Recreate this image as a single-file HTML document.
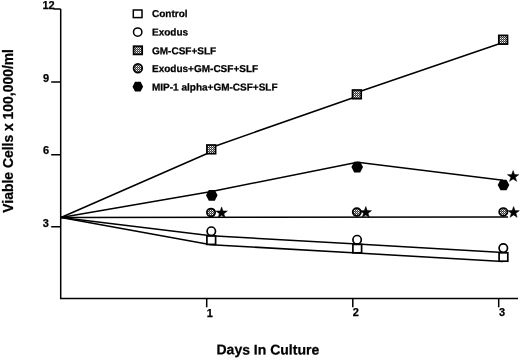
<!DOCTYPE html>
<html><head><meta charset="utf-8"><title>Viable Cells</title>
<style>
html,body{margin:0;padding:0;background:#fff;}
svg{display:block}
text{font-family:"Liberation Sans",Arial,sans-serif;font-weight:bold;fill:#000;stroke:#000;stroke-width:0.25px}
</style></head>
<body>
<svg width="520" height="360" viewBox="0 0 520 360">
<defs>
<pattern id="chk" width="2" height="2" patternUnits="userSpaceOnUse">
<rect width="2" height="2" fill="#3a3a3a"/>
<rect x="0" y="0" width="1" height="1" fill="#fff"/>
<rect x="1" y="1" width="1" height="1" fill="#999"/>
</pattern>
<polygon id="star" stroke="#000" stroke-width="0.5" stroke-linejoin="miter" points="0,-6 1.41,-1.94 5.71,-1.85 2.28,0.74 3.53,4.85 0,2.4 -3.53,4.85 -2.28,0.74 -5.71,-1.85 -1.41,-1.94"/>
<polygon id="hex" points="-5.8,0 -3,-5.35 3,-5.35 5.8,0 3,5.35 -3,5.35"/>
<polygon id="hexs" points="-5.3,0 -2.8,-4.9 2.8,-4.9 5.3,0 2.8,4.9 -2.8,4.9"/>
</defs>
<rect width="520" height="360" fill="#fff"/>
<!-- axes -->
<g stroke="#000" stroke-width="1.5" fill="none" stroke-linecap="butt">
<path d="M60.7,9 V298.5 H518"/>
<path d="M53.5,9 H60.7 M51.2,82 H60.7 M51.2,154.8 H60.7 M51.2,226.8 H60.7"/>
<path d="M206.7,298 V307.3 M352.8,298 V307.3 M498.7,298 V307.3"/>
</g>
<!-- series lines -->
<g stroke="#000" stroke-width="1.55" fill="none" stroke-linejoin="round">
<path d="M61,217.5 L211.3,151.7 M211.3,147.4 L356.8,96.4 M356.8,92.5 L503,42.5"/>
<polyline points="61,217.5 211.5,191.4 357.5,162.3 503,180.3"/>
<polyline points="61,217.5 508,217"/>
<polyline points="61,217.5 211,235.7 357,244.1 503,252.4"/>
<polyline points="61,217.5 211,244.7 357,253 503,261.5"/>
</g>
<!-- markers -->
<g stroke="#000" stroke-width="1.7">
<rect x="206.9" y="145" width="8.7" height="8.7" fill="url(#chk)"/>
<rect x="352.5" y="90" width="8.7" height="8.7" fill="url(#chk)"/>
<rect x="498.8" y="35.4" width="8.7" height="8.7" fill="url(#chk)"/>
<ellipse cx="211" cy="212.5" rx="4.15" ry="3.9" fill="url(#chk)"/>
<ellipse cx="356.8" cy="212.1" rx="4.15" ry="3.9" fill="url(#chk)"/>
<ellipse cx="503.3" cy="211.9" rx="4.15" ry="3.9" fill="url(#chk)"/>
<circle cx="211.3" cy="231.2" r="4.2" fill="#fff"/>
<circle cx="357.1" cy="239.7" r="4.2" fill="#fff"/>
<circle cx="503.3" cy="248.1" r="4.2" fill="#fff"/>
<rect x="206.9" y="236" width="8.7" height="8.4" fill="#fff"/>
<rect x="352.9" y="244.4" width="8.7" height="8.4" fill="#fff"/>
<rect x="499.1" y="252.8" width="8.7" height="8.4" fill="#fff"/>
</g>
<g fill="#000">
<use href="#hex" x="211.8" y="195.3"/>
<use href="#hex" x="357.2" y="167.1"/>
<use href="#hex" x="503.5" y="185"/>
<use href="#star" x="221.6" y="212.9"/>
<use href="#star" x="365.8" y="212.5"/>
<use href="#star" x="513.6" y="212.5"/>
<use href="#star" x="513.1" y="176.5"/>
</g>
<!-- legend -->
<g stroke="#000" stroke-width="1.5">
<rect x="133.3" y="10" width="8.7" height="7.6" fill="#fff"/>
<circle cx="137.7" cy="32.1" r="4.2" fill="#fff"/>
<rect x="133.6" y="46.2" width="8.6" height="8.2" fill="url(#chk)" stroke-width="1.7"/>
<circle cx="137.9" cy="68.3" r="4.35" fill="url(#chk)" stroke-width="1.7"/>
</g>
<use href="#hexs" x="137.8" y="86.7"/>
<g font-size="10px" transform="rotate(0.03 215 50)">
<text x="152" y="17">Control</text>
<text x="152" y="35.5">Exodus</text>
<text x="152" y="54.3">GM-CSF+SLF</text>
<text x="152" y="72.1">Exodus+GM-CSF+SLF</text>
<text x="152" y="90.6">MIP-1 alpha+GM-CSF+SLF</text>
</g>
<!-- tick labels -->
<g font-size="11px" transform="rotate(0.02 260 180)">
<text x="54.6" y="9" text-anchor="end">12</text>
<text x="49" y="82" text-anchor="end">9</text>
<text x="49" y="154.3" text-anchor="end">6</text>
<text x="49" y="226.8" text-anchor="end">3</text>
<text x="206.7" y="316.7">1</text>
<text x="352.8" y="316.3">2</text>
<text x="499" y="316">3</text>
</g>
<text x="216.5" y="354.4" font-size="14px" transform="rotate(0.03 268 354)">Days In Culture</text>
<text transform="translate(12.8,212.7) rotate(-90)" font-size="14px" textLength="163.7" lengthAdjust="spacingAndGlyphs">Viable Cells x 100,000/ml</text>
</svg>
</body></html>
